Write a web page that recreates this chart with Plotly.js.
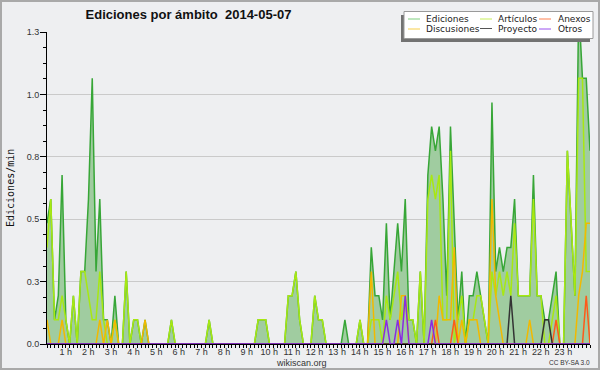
<!DOCTYPE html>
<html>
<head>
<meta charset="utf-8">
<script src="https://cdn.plot.ly/plotly-3.0.1.min.js"></script>
<style>
  html, body { margin: 0; padding: 0; background: #eeeff1; }
  #chart { width: 600px; height: 370px; }
</style>
</head>
<body>
<div id="chart"></div>
<script>
// Edits per minute, one value per 10-minute bin (00:00 .. 24:00)
const ediciones = [
  0.5,0.6,0.1,0.2,0.7,0.1,0,0.2,0,0.3,
  0.3,0.6,1.1,0.3,0.6,0.1,0.1,0,0.2,0,
  0,0.3,0,0.1,0.1,0,0.1,0,0,0,
  0,0,0,0.1,0,0,0,0,0,0,
  0,0,0,0.1,0,0,0,0,0,0,
  0,0,0,0,0,0,0.1,0.1,0.1,0,
  0,0,0,0,0.2,0.2,0.3,0.1,0,0,
  0,0.2,0.1,0.1,0,0,0,0,0,0.1,
  0,0,0,0.1,0,0,0.4,0.2,0.2,0.1,
  0.5,0.1,0.3,0.5,0.3,0.6,0.1,0.1,0,0.3,
  0,0.7,0.9,0.8,0.9,0.6,0.2,0.9,0.5,0.1,
  0.3,0,0.2,0.2,0.3,0.2,0.1,0,1.0,0.3,
  0.4,0.3,0.4,0.4,0.6,0.2,0.2,0.2,0.2,0.7,
  0.2,0.2,0.1,0.1,0.2,0.3,0,0,0.8,0.5,
  0.2,1.4,1.1,1.1,0.8
];
const articulos = [
  0.4,0.6,0.1,0.1,0.2,0.1,0,0.2,0,0.3,
  0.3,0.2,0.1,0.1,0.3,0.1,0,0,0.1,0,
  0,0.3,0,0.1,0.1,0,0,0,0,0,
  0,0,0,0.1,0,0,0,0,0,0,
  0,0,0,0.1,0,0,0,0,0,0,
  0,0,0,0,0,0,0.1,0.1,0.1,0,
  0,0,0,0,0.2,0.2,0.3,0.1,0,0,
  0,0.2,0.1,0.1,0,0,0,0,0,0,
  0,0,0,0.1,0,0,0.1,0.1,0.1,0,
  0.2,0.1,0.2,0.3,0.1,0.2,0.1,0.1,0,0.3,
  0,0.6,0.7,0.6,0.7,0.1,0.1,0.8,0,0.1,
  0.2,0,0.1,0.1,0.2,0.2,0.1,0,0.3,0.2,
  0.3,0.2,0.3,0.2,0.5,0.2,0.2,0.2,0.2,0.6,
  0.2,0.2,0,0,0.1,0.2,0,0,0.8,0.5,
  0.2,1.1,1.1,0.3,0.3
];
const discusiones = [
  0.1,0,0,0,0.1,0,0,0,0,0,
  0,0,0,0,0.1,0,0.1,0,0.1,0,
  0,0,0,0,0,0,0.1,0,0,0,
  0,0,0,0,0,0,0,0,0,0,
  0,0,0,0,0,0,0,0,0,0,
  0,0,0,0,0,0,0,0,0,0,
  0,0,0,0,0,0,0,0,0,0,
  0,0,0,0,0,0,0,0,0,0,
  0,0,0,0,0,0,0.3,0,0,0,
  0,0,0,0,0.2,0.2,0,0,0,0,
  0,0,0,0,0.2,0.1,0.1,0.1,0.4,0,
  0.1,0,0.1,0.1,0.1,0,0,0,0.6,0.2,
  0.1,0,0,0,0,0,0,0,0.1,0,
  0,0,0,0,0,0,0,0,0,0,
  0,0.2,0.3,0.5,0.5
];
const anexos = [
  0,0,0,0,0,0,0,0,0,0,
  0,0,0,0,0,0,0,0,0,0,
  0,0,0,0,0,0,0,0,0,0,
  0,0,0,0,0,0,0,0,0,0,
  0,0,0,0,0,0,0,0,0,0,
  0,0,0,0,0,0,0,0,0,0,
  0,0,0,0,0,0,0,0,0,0,
  0,0,0,0,0,0,0,0,0,0,
  0,0,0,0,0,0,0,0,0,0,
  0,0,0,0,0,0,0,0,0,0,
  0,0,0,0.1,0,0,0,0,0.1,0,
  0,0,0,0,0,0,0,0,0,0,
  0,0,0,0,0,0,0,0,0,0,
  0,0,0,0,0,0.1,0,0,0,0,
  0,0,0,0.2,0
];
const proyecto = [
  0,0,0,0,0,0,0,0,0,0,
  0,0,0,0,0,0,0,0,0,0,
  0,0,0,0,0,0,0,0,0,0,
  0,0,0,0,0,0,0,0,0,0,
  0,0,0,0,0,0,0,0,0,0,
  0,0,0,0,0,0,0,0,0,0,
  0,0,0,0,0,0,0,0,0,0,
  0,0,0,0,0,0,0,0,0,0,
  0,0,0,0,0,0,0,0,0,0,
  0,0,0,0,0,0,0,0,0,0,
  0,0,0,0,0,0,0,0,0,0,
  0,0,0,0,0,0,0,0,0,0,
  0,0,0,0.2,0,0,0,0,0,0,
  0,0,0.1,0.1,0,0,0,0,0,0,
  0,0,0,0,0
];
const otros = [
  0,0,0,0,0,0,0,0,0,0,
  0,0,0,0,0,0,0,0,0,0,
  0,0,0,0,0,0,0,0,0,0,
  0,0,0,0,0,0,0,0,0,0,
  0,0,0,0,0,0,0,0,0,0,
  0,0,0,0,0,0,0,0,0,0,
  0,0,0,0,0,0,0,0,0,0,
  0,0,0,0,0,0,0,0,0,0,
  0,0,0,0,0,0,0,0,0,0,
  0.1,0,0,0.1,0,0.2,0,0,0,0,
  0,0,0.1,0,0,0,0,0,0,0,
  0,0,0,0,0,0,0,0,0,0,
  0,0,0,0,0,0,0,0,0,0,
  0,0,0,0,0,0,0,0,0,0,
  0,0,0,0,0
];
const hourTicks = [1,2,3,4,5,6,7,8,9,10,11,12,13,14,15,16,17,18,19,20,21,22,23];
const hourLabels = ['1 h','2 h','3 h','4 h','5 h','6 h','7 h','8 h','9 h','10 h','11 h','12 h',
                    '13 h','14 h','15 h','16 h','17 h','18 h','19 h','20 h','21 h','22 h','23 h'];
const yTicks = [0, 0.258333, 0.516667, 0.775, 1.033333, 1.291667];
const yLabels = ['0.0','0.3','0.5','0.8','1.0','1.3'];

// bin time in hours (10-minute bins)
const hours = ediciones.map((_, i) => i / 6);

const series = [
  {name:'Ediciones',   y: ediciones,   color:'#37a637', sw:'#7fcf7f'},
  {name:'Artículos',   y: articulos,   color:'#a8e812', sw:'#c8ef5a'},
  {name:'Discusiones', y: discusiones, color:'#f2b900', sw:'#f7cf4a'},
  {name:'Anexos',      y: anexos,      color:'#ff5a1a', sw:'#ff8050'},
  {name:'Proyecto',    y: proyecto,    color:'#333333', sw:'#555555'},
  {name:'Otros',       y: otros,       color:'#8a2be2', sw:'#9a50ee'}
];

const traces = series.map((s, k) => {
  const t = {x: hours, y: s.y, type:'scatter', mode:'lines', name: s.name,
    line:{color: s.color, width: 1.5}, hoverinfo:'skip', showlegend:false};
  if (k === 0) { t.fill = 'tozeroy'; t.fillcolor = '#a0cca0'; }
  return t;
});

// plot-area geometry (px)
const L = 47, R = 10, T = 32, B = 26, W = 600, H = 370;
const PW = W - L - R, PH = H - T - B;
const PX = px => (px - L) / PW;
const PY = py => (H - B - py) / PH;

const shapes = [
  // outer border
  {type:'rect', xref:'paper', yref:'paper', x0:PX(1), x1:PX(599), y0:PY(369), y1:PY(1),
   line:{color:'#a9a9a9', width:2}, fillcolor:'rgba(0,0,0,0)', layer:'above'},
  // legend shadow + box
  {type:'rect', xref:'paper', yref:'paper', x0:PX(401), x1:PX(590), y0:PY(42), y1:PY(15),
   line:{width:0}, fillcolor:'#727272', layer:'above'},
  {type:'rect', xref:'paper', yref:'paper', x0:PX(404), x1:PX(593), y0:PY(38.5), y1:PY(11.5),
   line:{color:'#9a9a9a', width:1}, fillcolor:'#ffffff', layer:'above'}
];
const annotations = [
  {text:'Ediciones/min', xref:'paper', yref:'paper', x:PX(10), y:PY(188), textangle:-90,
   showarrow:false, xanchor:'center', yanchor:'middle',
   font:{family:'DejaVu Sans Mono', size:10, color:'#111'}},
  {text:'wikiscan.org', xref:'paper', yref:'paper', x:PX(301), y:PY(363),
   showarrow:false, xanchor:'center', yanchor:'middle',
   font:{family:'Liberation Sans', size:9, color:'#333'}},
  {text:'CC BY-SA 3.0', xref:'paper', yref:'paper', x:PX(569), y:PY(362.5),
   showarrow:false, xanchor:'center', yanchor:'middle',
   font:{family:'Liberation Sans', size:6.5, color:'#333'}}
];
// legend layout: 3 columns x 2 rows
const legPos = [
  {s:0, sx:408, tx:424, y:19}, {s:1, sx:480, tx:496, y:19}, {s:3, sx:539, tx:555.5, y:19},
  {s:2, sx:408, tx:424, y:29}, {s:4, sx:480, tx:496, y:28.5}, {s:5, sx:539, tx:555.5, y:29}
];
legPos.forEach(p => {
  const s = series[p.s];
  shapes.push({type:'line', xref:'paper', yref:'paper', x0:PX(p.sx), x1:PX(p.sx + 12),
    y0:PY(p.y), y1:PY(p.y), line:{color:s.sw, width:1}, layer:'above'});
  annotations.push({text:s.name, xref:'paper', yref:'paper', x:PX(p.tx), y:PY(p.y),
    showarrow:false, xanchor:'left', yanchor:'middle',
    font:{family:'DejaVu Sans', size:9, color:'#222'}});
});

const layout = {
  width: W, height: H,
  margin:{l:L, r:R, t:T, b:B, pad:0},
  paper_bgcolor:'#eeeff1', plot_bgcolor:'#eeeff1',
  title:{text:'<b>Ediciones por ámbito\u00a0\u00a02014-05-07</b>', xref:'container', yref:'container',
    x:188.5/W, xanchor:'center', y:1 - 14/H, yanchor:'middle',
    font:{family:'Liberation Sans', size:13, color:'#111'}},
  xaxis:{range:[0,24], showgrid:false, zeroline:false, showline:true, linecolor:'#000', linewidth:1,
    tickvals:hourTicks, ticktext:hourLabels, ticks:'outside', ticklen:3, tickcolor:'#000', tickwidth:1,
    minor:{dtick:1/6, tick0:0, ticks:'outside', ticklen:3, tickcolor:'#000', tickwidth:1, showgrid:false},
    tickfont:{family:'Liberation Sans', size:9, color:'#333'}, ticklabelshift:-4, ticklabelstandoff:-4,
    layer:'above traces', fixedrange:true},
  yaxis:{range:[0,1.291667], showgrid:true, gridcolor:'#cacaca', gridwidth:1, zeroline:false,
    showline:true, linecolor:'#000', linewidth:1,
    tickvals:yTicks, ticktext:yLabels, ticks:'outside', ticklen:6, tickcolor:'#000', tickwidth:1,
    minor:{dtick:0.0645833, tick0:0, ticks:'outside', ticklen:3, tickcolor:'#000', tickwidth:1, showgrid:false},
    tickfont:{family:'Liberation Sans', size:9, color:'#333'}, ticklabelstandoff:-1,
    layer:'above traces', fixedrange:true},
  showlegend:false,
  shapes: shapes,
  annotations: annotations
};

Plotly.newPlot('chart', traces, layout, {displayModeBar:false, staticPlot:true});
</script>
</body>
</html>
